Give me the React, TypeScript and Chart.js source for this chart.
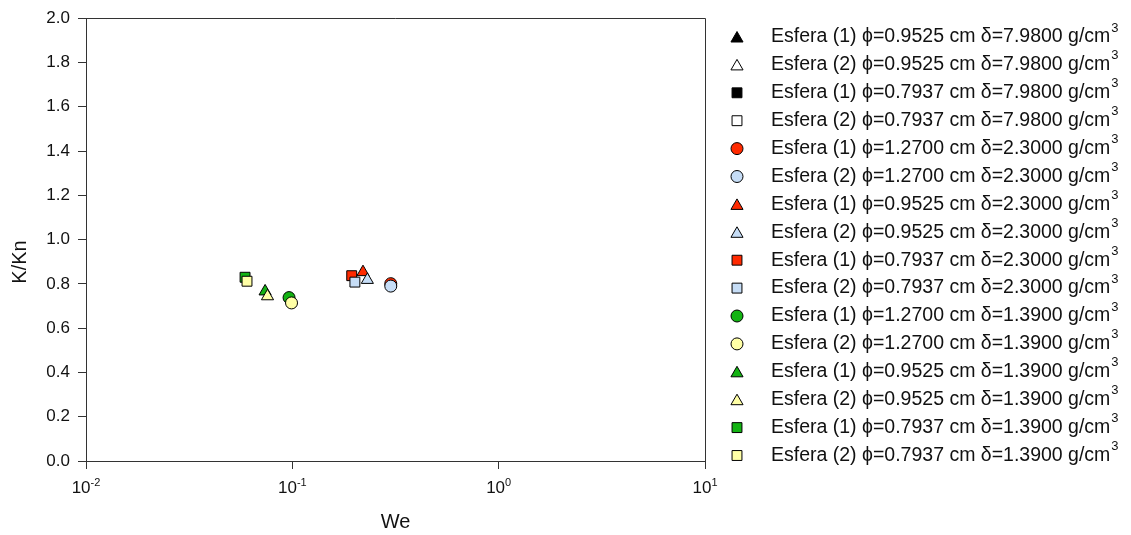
import React, { useEffect, useRef } from "react";
import { Chart, registerables } from "chart.js";

Chart.register(...registerables);

// ---------------- data ----------------
const seriesLabels = [
  "Esfera (1) ϕ=0.9525 cm δ=7.9800 g/cm",
  "Esfera (2) ϕ=0.9525 cm δ=7.9800 g/cm",
  "Esfera (1) ϕ=0.7937 cm δ=7.9800 g/cm",
  "Esfera (2) ϕ=0.7937 cm δ=7.9800 g/cm",
  "Esfera (1) ϕ=1.2700 cm δ=2.3000 g/cm",
  "Esfera (2) ϕ=1.2700 cm δ=2.3000 g/cm",
  "Esfera (1) ϕ=0.9525 cm δ=2.3000 g/cm",
  "Esfera (2) ϕ=0.9525 cm δ=2.3000 g/cm",
  "Esfera (1) ϕ=0.7937 cm δ=2.3000 g/cm",
  "Esfera (2) ϕ=0.7937 cm δ=2.3000 g/cm",
  "Esfera (1) ϕ=1.2700 cm δ=1.3900 g/cm",
  "Esfera (2) ϕ=1.2700 cm δ=1.3900 g/cm",
  "Esfera (1) ϕ=0.9525 cm δ=1.3900 g/cm",
  "Esfera (2) ϕ=0.9525 cm δ=1.3900 g/cm",
  "Esfera (1) ϕ=0.7937 cm δ=1.3900 g/cm",
  "Esfera (2) ϕ=0.7937 cm δ=1.3900 g/cm",
];
const unitSuperscript = "3";

const seriesShapes = [
  "triangle", "triangle", "rect", "rect",
  "circle", "circle", "triangle", "triangle", "rect", "rect",
  "circle", "circle", "triangle", "triangle", "rect", "rect",
];
const seriesColors = [
  "#000000", "#ffffff", "#000000", "#ffffff",
  "#ff2a00", "#c6ddf6", "#ff2a00", "#c6ddf6", "#ff2a00", "#c6ddf6",
  "#13b313", "#ffffa6", "#13b313", "#ffffa6", "#13b313", "#ffffa6",
];

// We values (x) and K/Kn values (y), one list per series (same order as labels)
const weValues: number[][] = [
  [], [], [], [],
  [0.300], [0.300], [0.220], [0.231], [0.194], [0.201],
  [0.0964], [0.0991], [0.0738], [0.0758], [0.0590], [0.0603],
];
const kValues: number[][] = [
  [], [], [], [],
  [0.801], [0.790], [0.853], [0.818], [0.837], [0.808],
  [0.738], [0.714], [0.766], [0.744], [0.830], [0.812],
];

const xTickValues = [0.01, 0.1, 1, 10];
const xTickExponents = ["-2", "-1", "0", "1"];
const yTickMin = 0;
const yTickMax = 2;
const yTickStep = 0.2;
const xTitle = "We";
const yTitle = "K/Kn";

// ---------------- style ----------------
const W = 1131;
const H = 535;
const FONT = "'Liberation Sans', Arial, sans-serif";
const axisColor = "#333333";
const textColor = "#111111";

const markerRadius: Record<string, number> = { circle: 6, triangle: 7, rect: 7 };

function drawMarker(ctx: CanvasRenderingContext2D, style: string, x: number, y: number, r: number, fill: string) {
  ctx.beginPath();
  if (style === "circle") {
    ctx.arc(x, y, r, 0, Math.PI * 2);
  } else if (style === "rect") {
    const s = Math.SQRT1_2 * r;
    ctx.rect(x - s, y - s, 2 * s, 2 * s);
  } else {
    let rad = 0;
    const step = (2 * Math.PI) / 3;
    ctx.moveTo(x + Math.sin(rad) * r, y - Math.cos(rad) * r);
    rad += step;
    ctx.lineTo(x + Math.sin(rad) * r, y - Math.cos(rad) * r);
    rad += step;
    ctx.lineTo(x + Math.sin(rad) * r, y - Math.cos(rad) * r);
    ctx.closePath();
  }
  ctx.fillStyle = fill;
  ctx.fill();
  ctx.lineWidth = 1;
  ctx.strokeStyle = "#000000";
  ctx.stroke();
}

const legendMarkerX = 737;
const legendTextX = 771;
const legendTop = 37;
const legendStep = 27.9;
const legendFontSize = 19.5;

const decorPlugin = {
  id: "decor",
  afterDraw(chart: any) {
    const { ctx, chartArea: a, scales } = chart;
    ctx.save();
    // top and right frame
    ctx.strokeStyle = axisColor;
    ctx.lineWidth = 1;
    const top = Math.round(a.top + 0.5) - 0.5;
    const right = Math.round(a.right + 0.5) - 0.5;
    ctx.beginPath();
    ctx.moveTo(a.left, top);
    ctx.lineTo(right, top);
    ctx.lineTo(right, a.bottom);
    ctx.stroke();

    // x tick labels with superscript exponents
    ctx.fillStyle = textColor;
    ctx.textBaseline = "alphabetic";
    ctx.textAlign = "left";
    const baseY = a.bottom + 32;
    xTickValues.forEach((v, i) => {
      const px = scales.x.getPixelForValue(v);
      ctx.font = `17px ${FONT}`;
      const w1 = ctx.measureText("10").width;
      ctx.font = `11px ${FONT}`;
      const w2 = ctx.measureText(xTickExponents[i]).width;
      const start = px - (w1 + w2) / 2;
      ctx.font = `17px ${FONT}`;
      ctx.fillText("10", start, baseY);
      ctx.font = `11px ${FONT}`;
      ctx.fillText(xTickExponents[i], start + w1, baseY - 7);
    });

    // y title (rotated)
    ctx.save();
    ctx.translate(20, 262);
    ctx.rotate(-Math.PI / 2);
    ctx.textAlign = "center";
    ctx.textBaseline = "middle";
    ctx.font = `20px ${FONT}`;
    ctx.fillStyle = textColor;
    ctx.fillText(yTitle, 0, 0);
    ctx.restore();

    // legend
    ctx.textAlign = "left";
    seriesLabels.forEach((label, i) => {
      const y = legendTop + i * legendStep;
      const st = seriesShapes[i];
      drawMarker(ctx, st, legendMarkerX, st === "triangle" ? y + 1.5 : y, markerRadius[st], seriesColors[i]);
      ctx.fillStyle = textColor;
      ctx.textBaseline = "middle";
      ctx.font = `${legendFontSize}px ${FONT}`;
      ctx.fillText(label, legendTextX, y);
      const w = ctx.measureText(label).width;
      ctx.font = `13px ${FONT}`;
      ctx.fillText(unitSuperscript, legendTextX + w + 1, y - 9);
    });
    ctx.restore();
  },
};

export default function App() {
  const ref = useRef<HTMLCanvasElement | null>(null);

  useEffect(() => {
    if (!ref.current) return;
    const datasets = seriesLabels.map((label, i) => ({
      label,
      data: weValues[i].map((x, j) => ({ x, y: kValues[i][j] })),
      pointStyle: seriesShapes[i],
      pointRadius: markerRadius[seriesShapes[i]],
      pointBackgroundColor: seriesColors[i],
      pointBorderColor: "#000000",
      pointBorderWidth: 1,
      showLine: false,
      order: seriesLabels.length - i,
    }));

    const chart = new Chart(ref.current, {
      type: "scatter",
      data: { datasets },
      plugins: [decorPlugin],
      options: {
        animation: false,
        responsive: false,
        events: [],
        layout: { padding: { top: 14, right: W - 705, bottom: 0, left: 0 } },
        plugins: { legend: { display: false }, tooltip: { enabled: false } },
        scales: {
          x: {
            type: "logarithmic",
            min: 0.01,
            max: 10,
            afterBuildTicks: (scale: any) => {
              scale.ticks = xTickValues.map((v) => ({ value: v, major: true }));
            },
            afterFit: (scale: any) => {
              scale.height = H - 461;
            },
            ticks: { display: false },
            grid: {
              display: true,
              drawOnChartArea: false,
              drawTicks: true,
              tickLength: 8,
              color: axisColor,
              lineWidth: 1,
            },
            border: { display: true, color: axisColor, width: 1 },
            title: {
              display: true,
              text: xTitle,
              color: textColor,
              font: { family: FONT, size: 20 },
              padding: { top: 0, bottom: 1 },
            },
          },
          y: {
            type: "linear",
            min: yTickMin,
            max: yTickMax,
            afterFit: (scale: any) => {
              scale.width = 86;
            },
            ticks: {
              stepSize: yTickStep,
              color: textColor,
              font: { family: FONT, size: 17 },
              padding: 8,
              callback: (v: any) => Number(v).toFixed(1),
            },
            grid: {
              display: true,
              drawOnChartArea: false,
              drawTicks: true,
              tickLength: 8,
              color: axisColor,
              lineWidth: 1,
            },
            border: { display: true, color: axisColor, width: 1 },
            title: { display: false },
          },
        },
      },
    });
    return () => chart.destroy();
  }, []);

  return (
    <div style={{ position: "fixed", left: 0, top: 0, width: W, height: H, background: "#ffffff" }}>
      <canvas ref={ref} width={W} height={H} style={{ display: "block" }} />
    </div>
  );
}
